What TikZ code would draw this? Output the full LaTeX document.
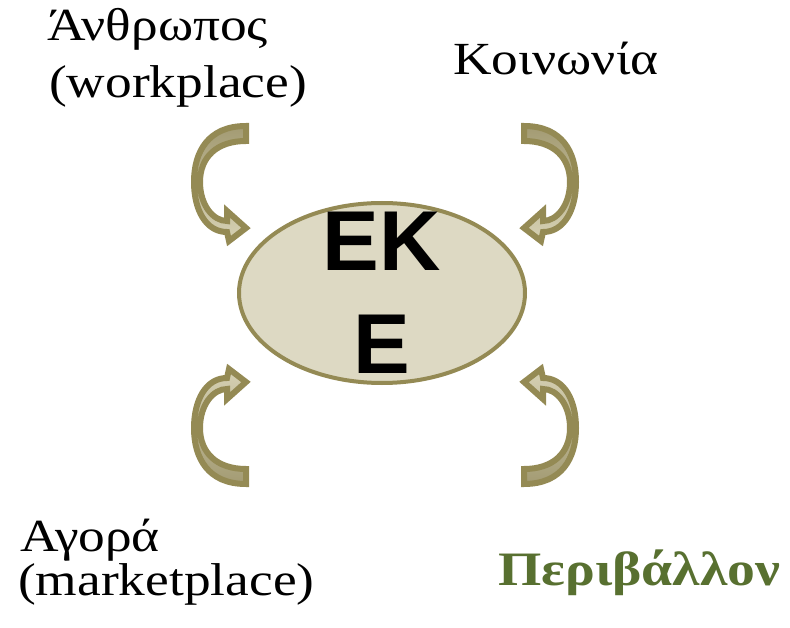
\documentclass[tikz,border=0pt]{standalone}
\usepackage{fontspec}
\setmainfont{Liberation Serif}
\newfontfamily\grfont[FakeStretch=1.16]{Liberation Serif}
\newfontfamily\hubfont{Liberation Sans}
\usetikzlibrary{shapes.geometric}

\definecolor{bendline}{RGB}{148,138,84}
\definecolor{benddark}{RGB}{163,155,115}
\definecolor{bendlight}{RGB}{214,209,180}
\definecolor{hubfill}{RGB}{221,217,195}
\definecolor{envgreen}{RGB}{88,112,48}

% one curved arrow, drawn round the point between the four arrows
\newcommand{\bendpath}{(-139,-179) .. controls (-177,-179) and (-191,-153) .. (-191,-123)
  .. controls (-191,-95) and (-179,-73) .. (-158,-73)
  -- (-156,-64) -- (-139,-77) -- (-158,-94) -- (-158,-84)
  .. controls (-172,-84) and (-185,-100) .. (-185,-123)
  .. controls (-185,-148) and (-168,-164) .. (-139,-164) -- cycle}

\begin{document}
\begin{tikzpicture}[
    x=1pt,y=-1pt,
    hub/.style={ellipse,draw=bendline,fill=hubfill,line width=4pt,
      minimum width=286pt,minimum height=180pt,inner sep=0},
    hubtext/.style={align=center,inner sep=0,
      font=\hubfont\bfseries\fontsize{85}{103}\selectfont},
    lbl/.style={anchor=base west,inner sep=0,
      font=\grfont\fontsize{46}{52}\selectfont},
    bendarrow/.style={draw=bendline,line width=6pt,line join=miter}
  ]
    \useasboundingbox (0,0) rectangle (790,628);

    % centre
    \node[hub] (eke) at (382,293) {};
    \node[hubtext] (eketext) at (eke.center) {EK\\E};

    % four curved arrows towards the centre
    \begin{scope}[shift={(385,305)}]
      \shade[bendarrow,top color=benddark,bottom color=bendlight] \bendpath;
    \end{scope}
    \begin{scope}[shift={(385,305)},xscale=-1]
      \shade[bendarrow,top color=benddark,bottom color=bendlight] \bendpath;
    \end{scope}
    \begin{scope}[shift={(385,305)},yscale=-1]
      \shade[bendarrow,top color=bendlight,bottom color=benddark] \bendpath;
    \end{scope}
    \begin{scope}[shift={(385,305)},xscale=-1,yscale=-1]
      \shade[bendarrow,top color=bendlight,bottom color=benddark] \bendpath;
    \end{scope}

    % labels
    \node[lbl] (anthropos) at (47,41) {Άνθρωπος};
    \node[lbl] (workplace) at (49,98) {(workplace)};
    \node[lbl] (koinonia) at (453,75) {Κοινωνία};
    \node[lbl] (agora) at (20,551) {Αγορά};
    \node[lbl] (marketplace) at (18,595) {(marketplace)};
    \node[lbl,text=envgreen,font=\grfont\bfseries\fontsize{48}{54}\selectfont]
      (perivallon) at (498,585) {Περιβάλλον};

\end{tikzpicture}
\end{document}
